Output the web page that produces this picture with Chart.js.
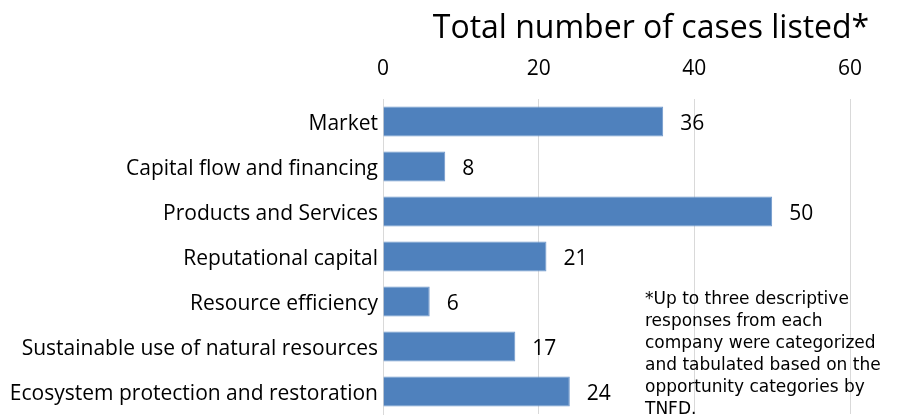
<!DOCTYPE html>
<html>
<head>
<meta charset="utf-8">
<script src="https://cdn.jsdelivr.net/npm/chart.js@4.4.1/dist/chart.umd.min.js"></script>
<style>
  html, body { margin: 0; padding: 0; background: #fff; }
  #wrap { width: 898px; height: 417px; position: relative; }
</style>
</head>
<body>
<div id="wrap"><canvas id="chart" width="898" height="417"></canvas></div>
<script>
// chart data
const categories = [
  'Market',
  'Capital flow and financing',
  'Products and Services',
  'Reputational capital',
  'Resource efficiency',
  'Sustainable use of natural resources',
  'Ecosystem protection and restoration'
];
const caseCounts = [36, 8, 50, 21, 6, 17, 24];
const xTicks = [0, 20, 40, 60];
const titleText = 'Total number of cases listed*';
const noteLines = [
  '*Up to three descriptive',
  'responses from each',
  'company were categorized',
  'and tabulated based on the',
  'opportunity categories by',
  'TNFD.'
];

const FONT = '"Open Sans", "Noto Sans", sans-serif';

// 値ラベル + タイトル + 注記
const decorations = {
  id: 'decorations',
  afterDatasetsDraw(chart) {
    const ctx = chart.ctx;
    const meta = chart.getDatasetMeta(0);
    ctx.save();
    ctx.fillStyle = '#000';
    ctx.font = '21px ' + FONT;
    ctx.textBaseline = 'middle';
    ctx.textAlign = 'left';
    meta.data.forEach((bar, i) => {
      ctx.fillText(String(caseCounts[i]), bar.x + 17, bar.y + 3);
    });
    ctx.restore();
  },
  afterDraw(chart) {
    const ctx = chart.ctx;
    ctx.save();
    ctx.fillStyle = '#000';
    ctx.font = '32px ' + FONT;
    ctx.textAlign = 'center';
    ctx.textBaseline = 'middle';
    ctx.fillText(titleText, 651, 29);

    ctx.font = '17px "DejaVu Sans", Verdana, sans-serif';
    ctx.textAlign = 'left';
    ctx.textBaseline = 'middle';
    noteLines.forEach((line, i) => ctx.fillText(line, 645, 300 + i * 22));
    ctx.restore();
  }
};

new Chart(document.getElementById('chart'), {
  type: 'bar',
  data: {
    labels: categories,
    datasets: [{
      data: caseCounts,
      backgroundColor: '#4F81BD',
      borderColor: '#6F97CB',
      borderWidth: 1,
      barPercentage: 0.667,
      categoryPercentage: 1
    }]
  },
  plugins: [decorations],
  options: {
    indexAxis: 'y',
    animation: false,
    responsive: false,
    layout: { padding: { left: 0, right: 48, top: 0, bottom: 3 } },
    plugins: { legend: { display: false }, tooltip: { enabled: false } },
    scales: {
      x: {
        position: 'top',
        min: 0, max: 60,
        afterBuildTicks(scale) { scale.ticks = xTicks.map(v => ({ value: v })); },
        afterFit(scale) { scale.height = 99; scale.paddingLeft = 0; scale.paddingRight = 0; },
        grid: { color: '#d9d9d9', lineWidth: 1, drawTicks: false },
        border: { display: false },
        ticks: { color: '#000', font: { family: FONT, size: 21 }, padding: 17, maxRotation: 0 }
      },
      y: {
        afterFit(scale) { scale.width = 383; scale.paddingTop = 0; scale.paddingBottom = 0; },
        grid: { display: false, drawTicks: false },
        border: { display: true, color: '#d9d9d9' },
        ticks: { color: '#000', font: { family: FONT, size: 21 }, padding: 5, labelOffset: 3 }
      }
    }
  }
});
</script>
</body>
</html>
